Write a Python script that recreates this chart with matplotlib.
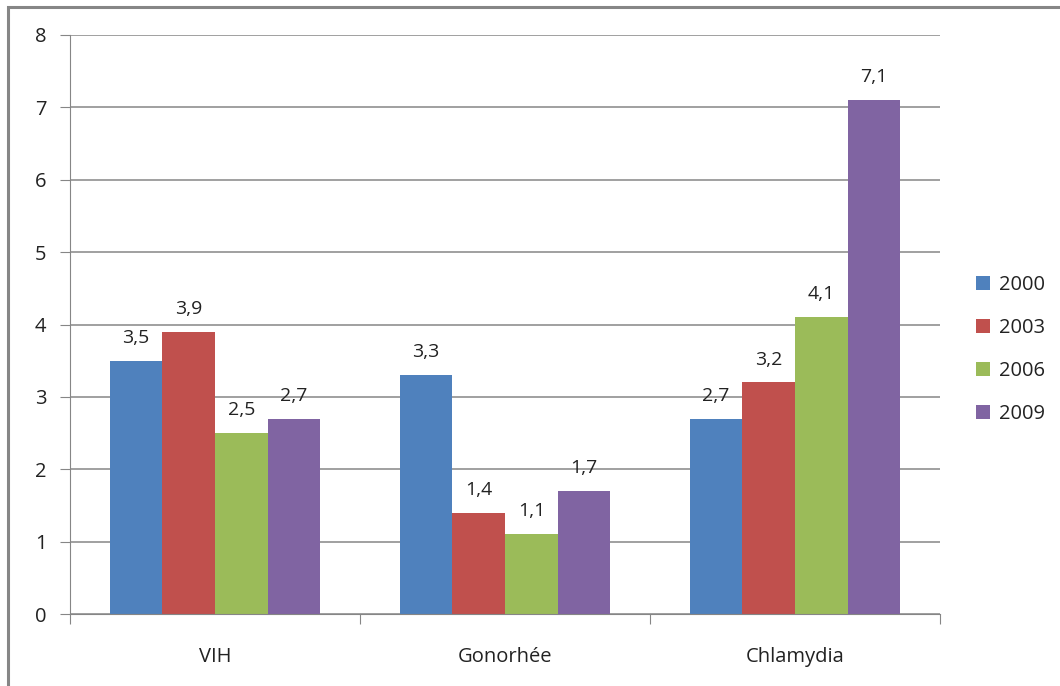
import matplotlib.pyplot as plt
import numpy as np
from matplotlib.patches import Rectangle

categories = ["VIH", "Gonorhée", "Chlamydia"]
years = ["2000", "2003", "2006", "2009"]
v2000 = [3.5, 3.3, 2.7]
v2003 = [3.9, 1.4, 3.2]
v2006 = [2.5, 1.1, 4.1]
v2009 = [2.7, 1.7, 7.1]
colors = ["#4F81BD", "#C0504D", "#9BBB59", "#8064A2"]

plt.rcParams['font.family'] = ['Open Sans', 'DejaVu Sans']

fig = plt.figure(figsize=(10.6, 6.86), dpi=100)
ax = fig.add_axes([70/1060, 72/686, 870/1060, 579/686])

# outer frame of the chart area
fig.patches.append(Rectangle((8/1060, -0.05), 1.1, (686-7)/686 + 0.05,
                             transform=fig.transFigure, fill=False,
                             edgecolor="#868686", linewidth=2.2))

x = np.arange(len(categories))
w = 1 / 5.5
series = [v2000, v2003, v2006, v2009]
for i, (vals, c, yr) in enumerate(zip(series, colors, years)):
    bars = ax.bar(x + (i - 1.5) * w, vals, w, color=c, label=yr)
    ax.bar_label(bars, labels=[f"{v:.1f}".replace(".", ",") for v in vals],
                 padding=10, fontsize=14, color="#222222")

ax.set_xlim(-0.5, 2.5)
ax.set_ylim(0, 8)
ax.set_yticks(range(9))
ax.yaxis.grid(True, color="#868686", linewidth=1.1)
ax.set_axisbelow(True)
for s in ["top", "right"]:
    ax.spines[s].set_visible(False)
for s in ["left", "bottom"]:
    ax.spines[s].set_color("#868686")
ax.tick_params(axis="y", length=7, color="#868686", labelsize=14.5,
               pad=10, labelcolor="#222222")
ax.set_xticks([-0.5, 0.5, 1.5, 2.5])
ax.set_xticklabels([])
ax.set_xticks(x, minor=True)
ax.set_xticklabels(categories, minor=True)
ax.tick_params(axis="x", which="major", length=7, color="#868686")
ax.tick_params(axis="x", which="minor", length=0, labelsize=14.5,
               pad=24, labelcolor="#222222")

ax.legend(loc="center left", bbox_to_anchor=(1.021, 0.457), frameon=False,
          fontsize=14.5, handlelength=0.7, handleheight=0.7, labelspacing=1.15,
          handletextpad=0.4, labelcolor="#222222")

fig.savefig("out.png", dpi=100)
